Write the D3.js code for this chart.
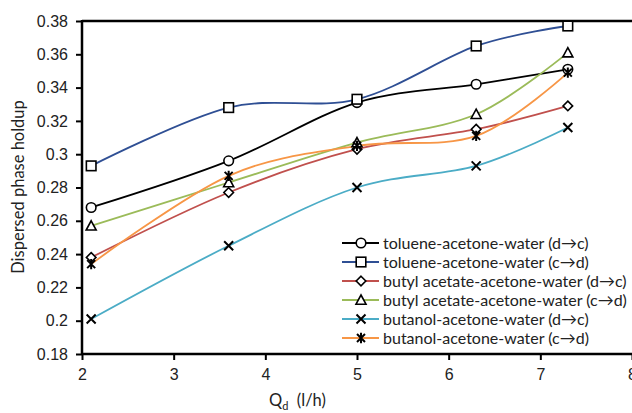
<!DOCTYPE html>
<html><head><meta charset="utf-8">
<script src="https://cdn.jsdelivr.net/npm/d3@7"></script>
<style>
body{margin:0;background:#fff;}
svg{display:block;font-family:Lato,"Open Sans",sans-serif;}
</style></head>
<body><svg id="c" width="632" height="413"></svg>
<script>
const flowRates = [2.1, 3.6, 5.0, 6.3, 7.3];
const seriesNames = [
  "toluene-acetone-water (d\u2192c)",
  "toluene-acetone-water (c\u2192d)",
  "butyl acetate-acetone-water (d\u2192c)",
  "butyl acetate-acetone-water (c\u2192d)",
  "butanol-acetone-water (d\u2192c)",
  "butanol-acetone-water (c\u2192d)"
];
const tolueneDC = [0.268, 0.296, 0.331, 0.342, 0.351];
const tolueneCD = [0.293, 0.328, 0.333, 0.365, 0.377];
const butylDC = [0.238, 0.277, 0.303, 0.315, 0.329];
const butylCD = [0.257, 0.283, 0.307, 0.324, 0.361];
const butanolDC = [0.201, 0.245, 0.280, 0.293, 0.316];
const butanolCD = [0.234, 0.287, 0.305, 0.311, 0.349];
const seriesValues = [tolueneDC, tolueneCD, butylDC, butylCD, butanolDC, butanolCD];
const seriesColors = ["#000000", "#2F4F94", "#C0504D", "#9BBB59", "#4BACC6", "#F79646"];
const seriesMarkers = ["circle", "square", "diamond", "triangle", "x", "star"];
const xTicks = [2, 3, 4, 5, 6, 7, 8];
const yTicks = [0.18, 0.2, 0.22, 0.24, 0.26, 0.28, 0.3, 0.32, 0.34, 0.36, 0.38];

const svg = d3.select("#c");
const L = 82, R = 632, T = 21, B = 354;
const x = d3.scaleLinear().domain([2, 8]).range([L, R]);
const y = d3.scaleLinear().domain([0.18, 0.38]).range([B, T]);

// axes
const yAxis = d3.axisLeft(y).tickValues(yTicks).tickSize(6).tickPadding(8).tickFormat(d => String(+d.toFixed(2)));
const xAxis = d3.axisBottom(x).tickValues(xTicks).tickSize(6).tickPadding(9).tickFormat(d3.format("d"));
const gy = svg.append("g").attr("transform", `translate(${L},0)`).call(yAxis);
const gx = svg.append("g").attr("transform", `translate(0,${B})`).call(xAxis);
[gy, gx].forEach(g => {
  g.select(".domain").remove();
  g.selectAll(".tick line").attr("stroke", "#000").attr("stroke-width", 2);
  g.selectAll(".tick text").attr("fill", "#222").style("font-size", "16px");
});
svg.append("line").attr("x1", L).attr("x2", R).attr("y1", T).attr("y2", T).attr("stroke", "#000").attr("stroke-width", 2.5);
svg.append("line").attr("x1", L).attr("x2", R).attr("y1", B).attr("y2", B).attr("stroke", "#000").attr("stroke-width", 2.5);
svg.append("line").attr("x1", L).attr("x2", L).attr("y1", T - 1).attr("y2", B + 1).attr("stroke", "#000").attr("stroke-width", 2.5);

// titles
svg.append("text").attr("transform", "translate(24,187) rotate(-90)").attr("text-anchor", "middle")
  .style("font-size", "16.5px").attr("fill", "#222").text("Dispersed phase holdup");
const xt = svg.append("text").attr("x", 269).attr("y", 406).style("font-size", "16.5px").attr("fill", "#222");
xt.append("tspan").text("Q");
xt.append("tspan").attr("dy", 4).style("font-size", "11px").text("d");
xt.append("tspan").attr("dy", -4).text("  (l/h)").attr("xml:space", "preserve");

// marker drawing
function drawMarker(g, type) {
  const st = {stroke: "#000", "stroke-width": 1.6, fill: "#fff"};
  let m;
  if (type === "circle") m = g.append("circle").attr("r", 4.8);
  else if (type === "square") m = g.append("rect").attr("x", -4.8).attr("y", -4.8).attr("width", 9.6).attr("height", 9.6);
  else if (type === "diamond") m = g.append("path").attr("d", "M0,-4.8L4.8,0L0,4.8L-4.8,0Z");
  else if (type === "triangle") m = g.append("path").attr("d", "M0,-5L5,4.2L-5,4.2Z");
  else if (type === "x") m = g.append("path").attr("d", "M-4.5,-4.5L4.5,4.5M-4.5,4.5L4.5,-4.5").attr("stroke-width", 2);
  else m = g.append("path").attr("d", "M-4,-4L4,4M-4,4L4,-4M0,-5.2L0,5.2").attr("stroke-width", 2);
  Object.entries(st).forEach(([k, v]) => { if (m.attr(k) == null) m.attr(k, v); });
  if (type === "x" || type === "star") m.attr("fill", "none");
}

const line = d3.line().x((d, i) => x(flowRates[i])).y(d => y(d)).curve(d3.curveCardinal.tension(0));
seriesValues.forEach((vals, s) => {
  svg.append("path").datum(vals).attr("d", line).attr("fill", "none")
    .attr("stroke", seriesColors[s]).attr("stroke-width", 1.8);
});
seriesValues.forEach((vals, s) => {
  vals.forEach((v, i) => {
    const g = svg.append("g").attr("transform", `translate(${x(flowRates[i])},${y(v)})`);
    drawMarker(g, seriesMarkers[s]);
  });
});

// legend
const lg = svg.append("g");
lg.append("rect").attr("x", 338).attr("y", 232).attr("width", 292).attr("height", 116).attr("fill", "#fff");
seriesNames.forEach((name, s) => {
  const yy = 243 + s * 19;
  lg.append("line").attr("x1", 342).attr("x2", 379).attr("y1", yy).attr("y2", yy)
    .attr("stroke", seriesColors[s]).attr("stroke-width", 1.8);
  const g = lg.append("g").attr("transform", `translate(361,${yy})`);
  drawMarker(g, seriesMarkers[s]);
  lg.append("text").attr("x", 383).attr("y", yy).attr("dy", "0.35em").style("font-size", "16px")
    .attr("fill", "#222").text(name);
});
</script></body></html>
